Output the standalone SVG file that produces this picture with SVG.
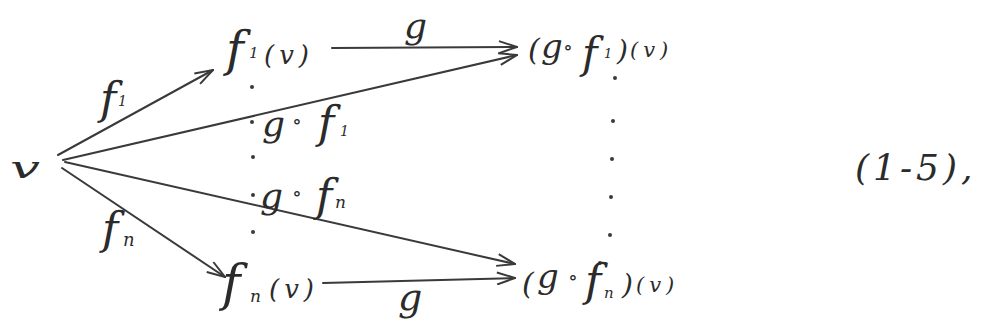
<svg xmlns="http://www.w3.org/2000/svg" width="983" height="329" viewBox="0 0 983 329">
<style>
.t{font-family:"DejaVu Serif","Liberation Serif",serif;font-style:italic;fill:#2b2b2b}
.c{stroke:#3a3a3a;stroke-width:2;fill:none;stroke-linecap:round}
.d{fill:#3a3a3a}
</style>
<defs>
<marker id="ah" viewBox="0 0 20 14" refX="19" refY="7" markerWidth="20" markerHeight="14" markerUnits="userSpaceOnUse" orient="auto">
<path d="M1,1 L19,7 L1,13" fill="none" stroke="#3a3a3a" stroke-width="2"/>
</marker>
</defs>
<rect width="983" height="329" fill="#ffffff"/>

<g id="connectors">
<line class="c" x1="58" y1="155" x2="213" y2="70" marker-end="url(#ah)"/>
<line class="c" x1="332" y1="48" x2="517" y2="47" marker-end="url(#ah)"/>
<line class="c" x1="63" y1="160" x2="517" y2="55" marker-end="url(#ah)"/>
<line class="c" x1="65" y1="162" x2="515" y2="264" marker-end="url(#ah)"/>
<line class="c" x1="62" y1="168" x2="225" y2="277" marker-end="url(#ah)"/>
<line class="c" x1="323" y1="283" x2="515" y2="278" marker-end="url(#ah)"/>
<text class="t"><tspan x="100" y="114" font-size="44">f</tspan><tspan x="118" y="106" font-size="14">1</tspan></text>
<text class="t"><tspan x="102" y="244" font-size="44">f</tspan><tspan x="123" y="246" font-size="18">n</tspan></text>
<text class="t" x="404" y="38" font-size="36">g</text>
<text class="t" x="398" y="310" font-size="38">g</text>
<text class="t"><tspan x="262" y="136" font-size="36">g</tspan><tspan x="292" y="128" font-size="20">∘</tspan><tspan x="318" y="138" font-size="44">f</tspan><tspan x="340" y="136" font-size="14">1</tspan></text>
<text class="t"><tspan x="260" y="208" font-size="36">g</tspan><tspan x="292" y="200" font-size="20">∘</tspan><tspan x="316" y="211" font-size="44">f</tspan><tspan x="335" y="208" font-size="17">n</tspan></text>
</g>

<g id="ellipsis">
<circle class="d" cx="252" cy="87" r="2"/>
<circle class="d" cx="252" cy="122" r="2"/>
<circle class="d" cx="253" cy="157" r="2"/>
<circle class="d" cx="253" cy="195" r="2"/>
<circle class="d" cx="253" cy="232" r="2"/>
<circle class="d" cx="615" cy="78" r="2"/>
<circle class="d" cx="613" cy="121" r="2"/>
<circle class="d" cx="612" cy="159" r="2"/>
<circle class="d" cx="611" cy="197" r="2"/>
<circle class="d" cx="610" cy="235" r="2"/>
<circle class="d" cx="600" cy="263" r="2"/>
</g>

<g id="n-v">
<text class="t" x="10" y="178" font-size="30" textLength="30" lengthAdjust="spacingAndGlyphs">v</text>
</g>

<g id="n-f1v">
<text class="t"><tspan x="226" y="66" font-size="48">f</tspan><tspan x="249" y="58" font-size="15">1</tspan><tspan x="264" y="64" font-size="26" letter-spacing="5">(v)</tspan></text>
</g>

<g id="n-gf1v">
<text class="t"><tspan x="528" y="60" font-size="30">(</tspan><tspan x="541" y="58" font-size="34">g</tspan><tspan x="563" y="54" font-size="20">∘</tspan><tspan x="582" y="68" font-size="42">f</tspan><tspan x="604" y="58" font-size="13">1</tspan><tspan x="617" y="60" font-size="28">)</tspan><tspan x="630" y="57" font-size="21" letter-spacing="5">(v)</tspan></text>
</g>

<g id="n-fnv">
<text class="t"><tspan x="222" y="300" font-size="50">f</tspan><tspan x="250" y="302" font-size="17">n</tspan><tspan x="269" y="298" font-size="26" letter-spacing="5">(v)</tspan></text>
</g>

<g id="n-gfnv">
<text class="t"><tspan x="522" y="294" font-size="30">(</tspan><tspan x="537" y="288" font-size="34">g</tspan><tspan x="568" y="284" font-size="20">∘</tspan><tspan x="585" y="296" font-size="44">f</tspan><tspan x="604" y="298" font-size="15">n</tspan><tspan x="622" y="294" font-size="28">)</tspan><tspan x="636" y="292" font-size="21" letter-spacing="5">(v)</tspan></text>
</g>

<g id="eqnum">
<text class="t" x="855" y="180" font-size="36" letter-spacing="4">(1-5),</text>
</g>
</svg>
